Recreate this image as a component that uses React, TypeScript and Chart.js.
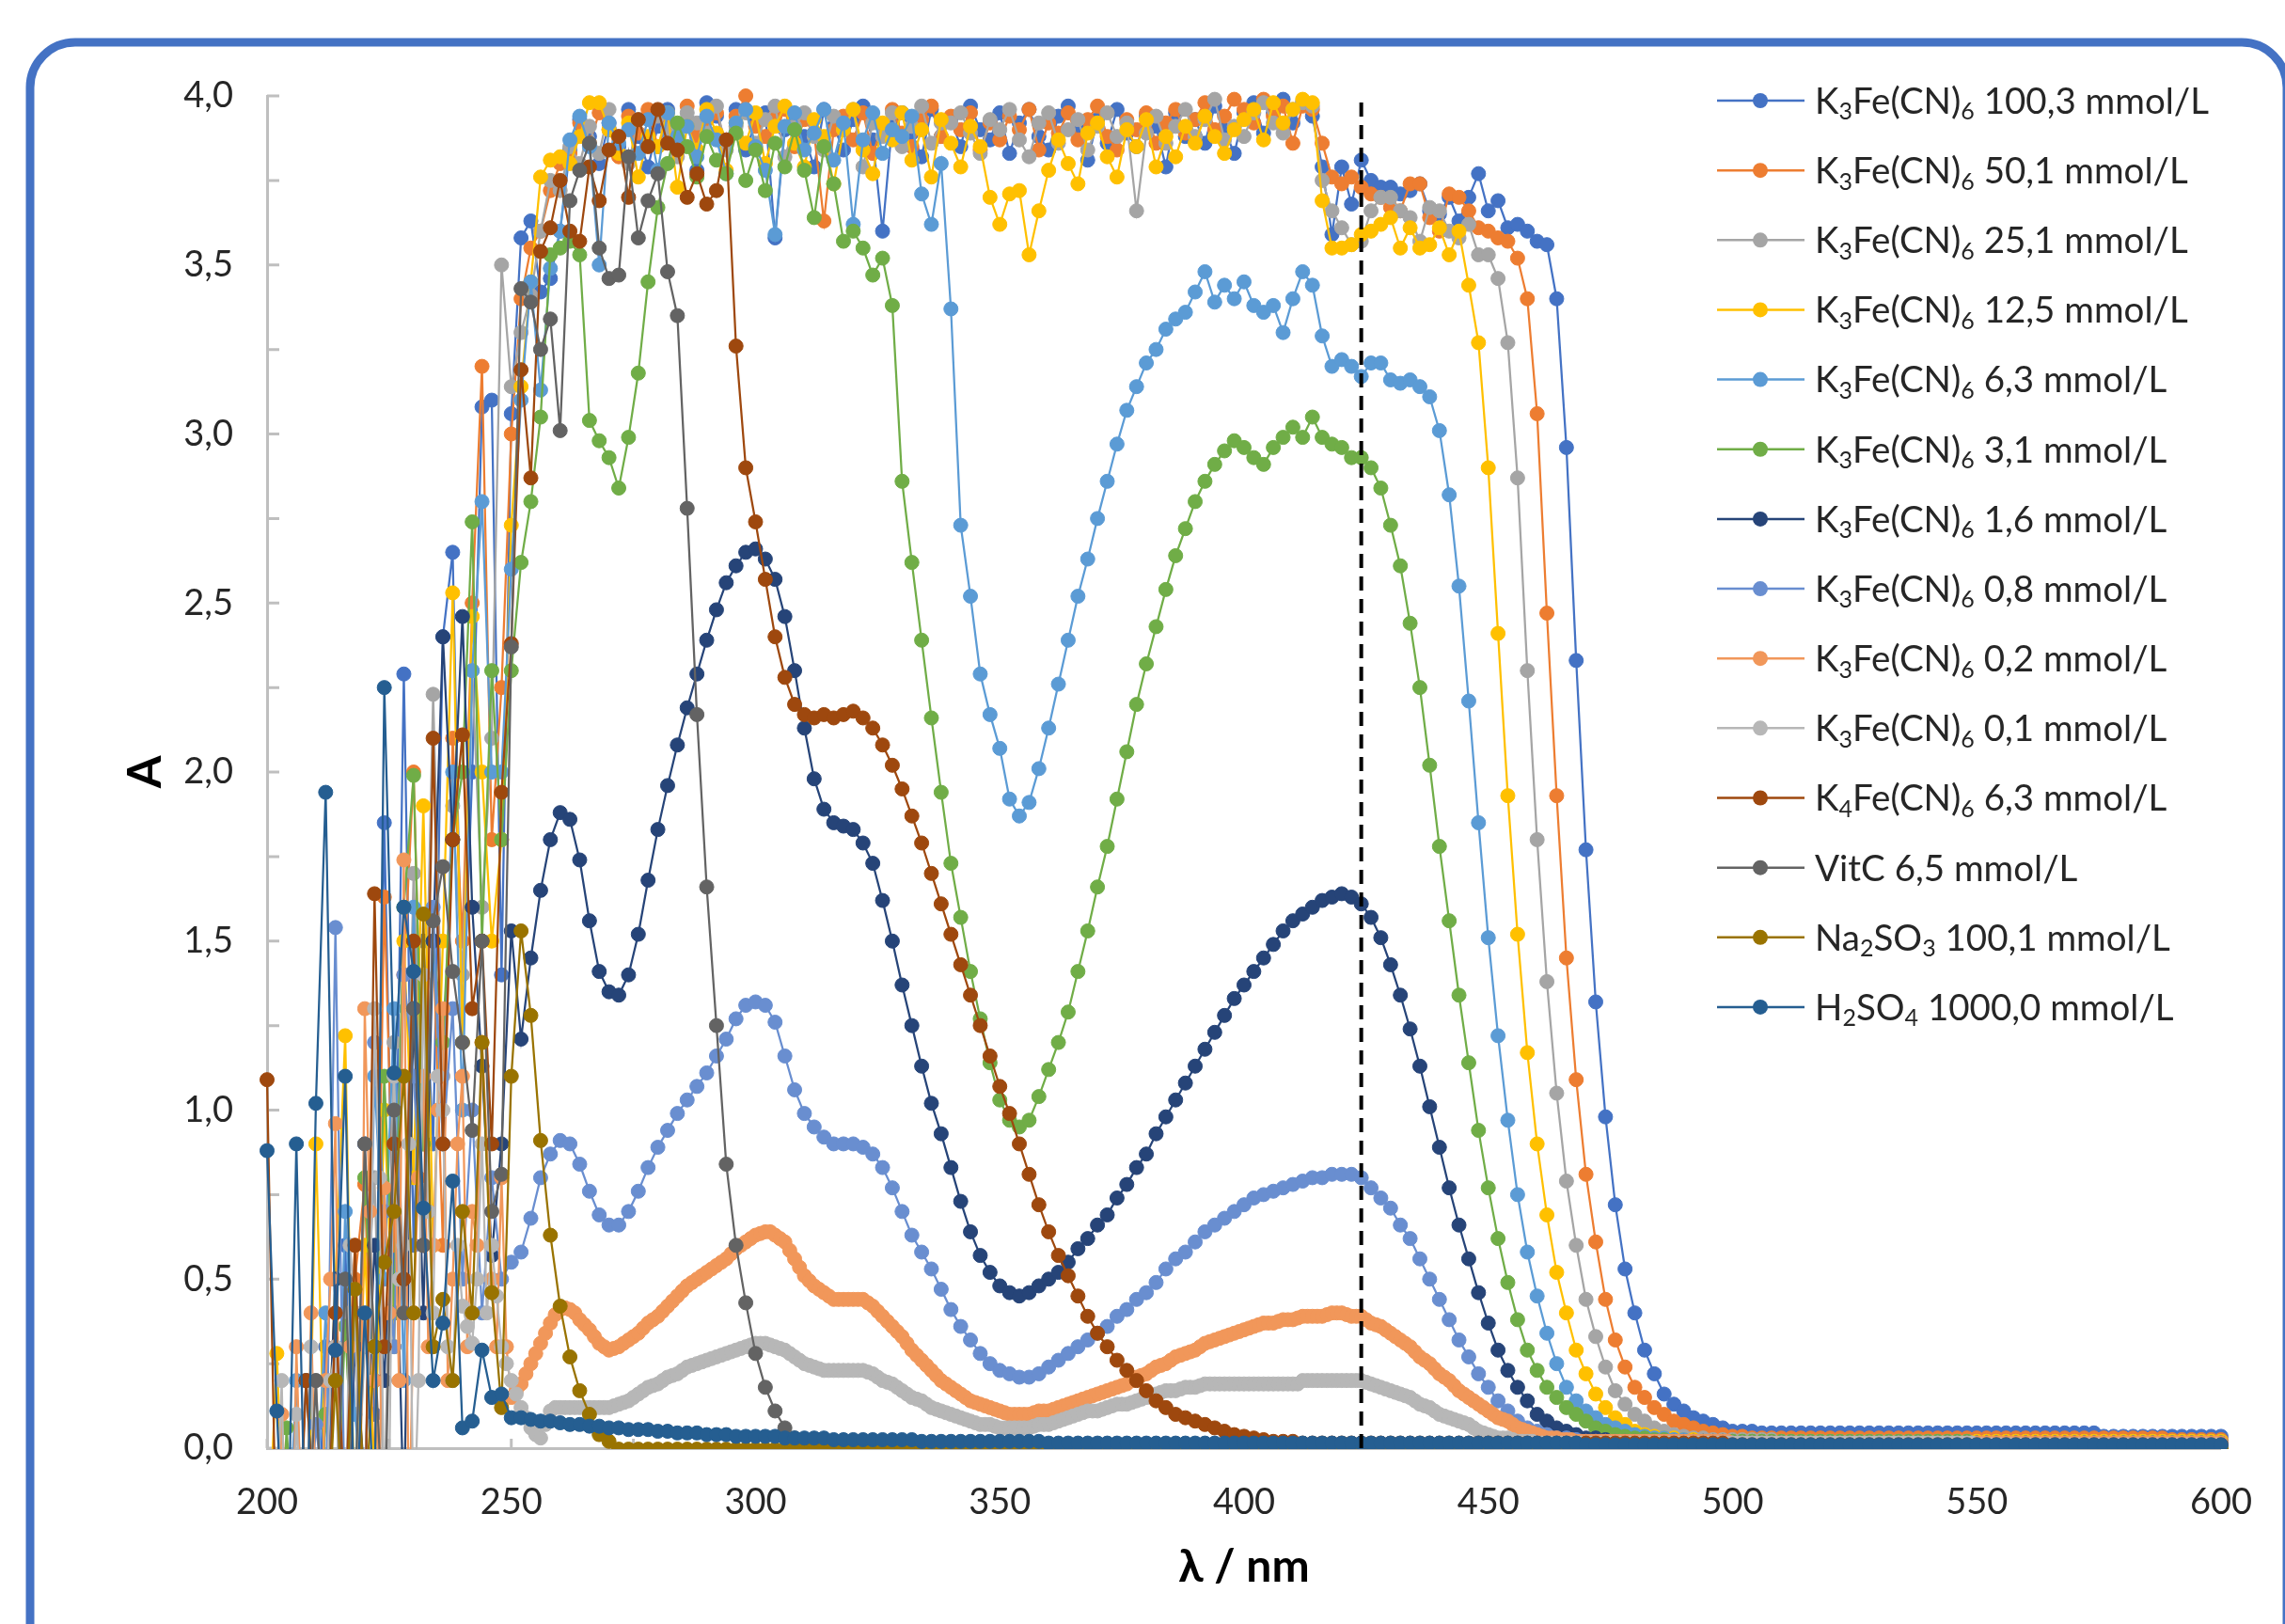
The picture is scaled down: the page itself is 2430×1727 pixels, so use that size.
import React, { useEffect, useRef } from 'react';
import { Chart, registerables } from 'chart.js';

Chart.register(...registerables);

// Instrument sampling grids (nm): most spectra every 2 nm, the two most dilute K3Fe(CN)6 spectra every 1 nm
const WAVELENGTHS_2NM: number[] = Array.from({ length: 201 }, (_, i) => 200 + 2 * i);
const WAVELENGTHS_1NM: number[] = Array.from({ length: 401 }, (_, i) => 200 + i);

// Absorbance values, in hundredths of A (A × 100), one per wavelength of the series' grid
const K3_100 = [
  -40, -60, -30, -50, -20, -40, 30, -30, 60, -20, 90, 10, 185, 40, 229, 60, 150, 90, 240, 265, 120, 200, 308, 310, 140,
  306, 358, 363, 342, 346, 360, 384, 393, 388, 380, 392, 385, 396, 388, 379, 391, 396, 385, 393, 378, 398, 394, 386, 396, 384,
  392, 395, 358, 390, 394, 388, 379, 396, 391, 384, 393, 397, 387, 360, 392, 395, 389, 382, 396, 388, 393, 385, 397, 390, 387,
  395, 383, 392, 396, 388, 384, 394, 397, 390, 381, 393, 386, 396, 389, 385, 394, 391, 379, 395, 388, 393, 386, 397, 390, 383,
  395, 398, 389, 395, 399, 392, 398, 394, 379, 359, 379, 368, 381, 375, 373, 373, 371, 372, 374, 366, 365, 370, 363, 370, 377,
  366, 369, 361, 362, 360, 357, 356, 340, 296, 233, 177, 132, 98, 72, 53, 40, 29, 22, 16, 13, 11, 9, 8, 7, 6,
  5, 5, 5, 4.5, 4.5, 4.5, 4.5, 4.5, 4.5, 4.5, 4.5, 4.5, 4.5, 4.5, 4.5, 4.5, 4.5, 4.5, 4.5, 4.5, 4.5, 4.5, 4.5, 4.5, 4.5,
  4.5, 4.5, 4.5, 4.5, 4.5, 4.5, 4.5, 4.5, 4.5, 4.5, 4.5, 4.5, 4.5, 3.5, 3.5, 3.5, 3.5, 3.5, 3.5, 3.5, 3.5, 3.5, 3.5, 3.5, 3.5, 3.5,
];
const K3_50 = [
  -50, -30, -60, -20, -40, -30, -10, 30, -20, 50, 78, -10, 163, 60, 140, 200, 90, 150, 60, 210, 150, 250, 320, 180, 225,
  300, 340, 355, 360, 372, 380, 383, 392, 386, 395, 390, 382, 394, 389, 396, 385, 392, 390, 397, 388, 393, 395, 386, 394, 400,
  391, 388, 394, 396, 385, 393, 389, 363, 390, 394, 387, 395, 383, 391, 396, 389, 385, 393, 397, 388, 394, 390, 395, 384, 392,
  387, 394, 390, 396, 384, 392, 389, 395, 387, 393, 397, 388, 384, 393, 390, 395, 386, 392, 396, 389, 393, 398, 390, 394, 399,
  396, 392, 399, 394, 397, 386, 397, 396, 386, 376, 374, 376, 373, 371, 370, 367, 366, 374, 374, 364, 360, 371, 370, 366, 361,
  360, 358, 357, 352, 340, 306, 247, 193, 145, 109, 81, 61, 44, 32, 24, 18, 15, 12, 10, 8, 7, 6, 5, 4.5, 4,
  3.5, 3.5, 3, 3, 3, 3, 3, 3, 3, 3, 3, 3, 3, 3, 3, 3, 3, 3, 3, 3, 3, 3, 3, 3, 3,
  3, 3, 3, 3, 3, 3, 3, 3, 3, 3, 3, 3, 3, 3, 3, 3, 3, 3, 3, 3, 2.5, 2.5, 2.5, 2.5, 2.5, 2.5,
];
const K3_25 = [
  -30, -50, -40, -60, -30, 20, -40, -20, 40, -30, 30, 80, -20, 120, 50, 170, 90, 223, 110, 190, 140, 230, 160, 210, 350,
  314, 330, 341, 360, 375, 372, 385, 380, 391, 383, 396, 388, 380, 393, 386, 394, 390, 382, 395, 392, 389, 397, 384, 391, 395,
  386, 393, 397, 382, 391, 395, 388, 384, 394, 390, 396, 379, 392, 388, 395, 385, 391, 397, 386, 392, 392, 395, 389, 383, 393,
  390, 396, 387, 382, 392, 395, 386, 390, 393, 384, 391, 395, 388, 392, 366, 389, 394, 386, 391, 396, 388, 393, 399, 387, 391,
  388, 395, 398, 392, 389, 396, 398, 397, 375, 366, 361, 356, 357, 366, 370, 370, 366, 364, 357, 367, 366, 360, 358, 362, 353,
  353, 346, 327, 287, 230, 180, 138, 105, 79, 60, 44, 33, 24, 17, 13, 10, 8, 6, 5, 4, 3.5, 3, 3, 2.5, 2.5,
  2.5, 2.5, 2.5, 2.5, 2.5, 2, 2, 2, 2, 2, 2, 2, 2, 2, 2, 2, 2, 2, 2, 2, 2, 2, 2, 2, 2,
  2, 2, 2, 2, 2, 2, 2, 2, 2, 2, 2, 2, 2, 2, 2, 2, 2, 2, 2, 2, 2, 2, 2, 2, 2, 2,
];
const K3_12 = [
  -40, 28, -50, -30, -60, 90, -20, 50, 122, -30, 60, -10, 100, 30, 150, 80, 190, 60, 150, 253, 120, 246, 200, 150, 180,
  273, 314, 345, 376, 381, 382, 380, 388, 398, 398, 390, 383, 392, 376, 388, 385, 395, 373, 391, 384, 396, 389, 378, 392, 386,
  395, 380, 391, 397, 386, 379, 393, 388, 374, 390, 396, 384, 377, 392, 387, 395, 381, 390, 376, 393, 386, 379, 391, 385, 370,
  362, 371, 372, 353, 366, 378, 387, 380, 374, 389, 392, 382, 376, 390, 385, 393, 379, 388, 382, 391, 386, 394, 388, 383, 390,
  393, 396, 387, 398, 392, 396, 399, 398, 369, 355, 355, 356, 359, 360, 362, 364, 355, 361, 355, 356, 361, 353, 360, 344, 327,
  290, 241, 193, 152, 117, 90, 69, 52, 40, 29, 22, 16, 12, 9, 7, 5, 4, 3.5, 3, 3, 2.5, 2.5, 2, 2, 2,
  2, 2, 2, 2, 2, 2, 2, 2, 2, 2, 2, 2, 2, 2, 2, 2, 2, 2, 2, 2, 2, 2, 2, 2, 2,
  2, 2, 2, 2, 2, 2, 2, 2, 2, 2, 2, 2, 2, 2, 2, 2, 2, 2, 2, 2, 2, 2, 2, 2, 2, 2,
];
const K3_6 = [
  -50, -30, -40, 20, -50, -20, 40, -30, 70, 10, -20, 110, 50, 130, 20, 160, 60, 150, 90, 200, 100, 230, 280, 200, 200,
  260, 310, 345, 313, 349, 360, 387, 394, 385, 350, 392, 386, 390, 383, 393, 378, 395, 388, 391, 382, 394, 387, 377, 392, 396,
  385, 378, 359, 391, 395, 384, 389, 396, 381, 392, 362, 387, 395, 383, 390, 388, 394, 371, 362, 380, 337, 273, 252, 229, 217,
  207, 192, 187, 191, 201, 213, 226, 239, 252, 263, 275, 286, 297, 307, 314, 321, 325, 331, 334, 336, 342, 348, 339, 344, 340,
  345, 338, 336, 338, 330, 340, 348, 344, 329, 320, 322, 320, 317, 321, 321, 316, 315, 316, 314, 311, 301, 282, 255, 221, 185,
  151, 122, 97, 75, 58, 45, 34, 25, 18, 14, 11, 9, 7, 6, 5, 4, 3.5, 3, 3, 2.5, 2.5, 2, 2, 2, 2,
  2, 2, 2, 2, 2, 2, 2, 2, 2, 2, 2, 2, 2, 2, 2, 2, 2, 2, 2, 2, 2, 2, 2, 2, 2,
  1.5, 1.5, 1.5, 1.5, 1.5, 1.5, 1.5, 1.5, 1.5, 1.5, 1.5, 1.5, 1.5, 1.5, 1.5, 1.5, 1.5, 1.5, 1.5, 1.5, 1.5, 1.5, 1.5, 1.5, 1.5, 1.5,
];
const K3_3 = [
  -30, -60, 6, -40, -20, -50, 10, -30, 36, -20, 80, 20, 110, 40, 160, 199, 90, 150, 120, 180, 200, 274, 150, 230, 180,
  230, 262, 280, 305, 353, 355, 357, 353, 304, 298, 293, 284, 299, 318, 345, 367, 380, 392, 385, 376, 388, 381, 377, 389, 375,
  384, 372, 386, 379, 390, 378, 364, 385, 374, 357, 360, 355, 347, 352, 338, 286, 262, 239, 216, 194, 173, 157, 141, 127, 114,
  103, 97, 95, 97, 104, 112, 120, 129, 141, 153, 166, 178, 192, 206, 220, 232, 243, 254, 264, 272, 280, 286, 291, 295, 298,
  296, 293, 291, 296, 299, 302, 299, 305, 299, 297, 296, 293, 293, 290, 284, 273, 261, 244, 225, 202, 178, 156, 134, 114, 94,
  77, 62, 49, 38, 29, 23, 18, 15, 12, 10, 8, 6, 5, 4, 3.5, 3, 3, 2.5, 2.5, 2, 2, 2, 2, 2, 2,
  2, 2, 2, 2, 2, 2, 2, 2, 2, 2, 2, 2, 2, 2, 2, 2, 2, 2, 2, 2, 2, 2, 2, 2, 2,
  1.5, 1.5, 1.5, 1.5, 1.5, 1.5, 1.5, 1.5, 1.5, 1.5, 1.5, 1.5, 1.5, 1.5, 1.5, 1.5, 1.5, 1.5, 1.5, 1.5, 1.5, 1.5, 1.5, 1.5, 1.5, 1.5,
];
const K3_1_6 = [
  -30, -50, -20, -40, 20, -30, -20, 50, -40, 30, -10, 60, 20, 90, -20, 130, 40, 150, 240, 180, 246, 160, 113, 57, 90,
  153, 121, 145, 165, 180, 188, 186, 174, 156, 141, 135, 134, 140, 152, 168, 183, 196, 208, 219, 229, 239, 248, 256, 261, 265,
  266, 263, 257, 246, 230, 213, 198, 189, 185, 184, 183, 179, 173, 162, 150, 137, 125, 113, 102, 93, 83, 73, 64, 57, 52,
  48, 46, 45, 46, 48, 50, 52, 55, 59, 62, 66, 69, 74, 78, 83, 87, 93, 98, 103, 108, 113, 118, 123, 128, 133,
  137, 141, 145, 149, 153, 156, 158, 160, 162, 163, 164, 163, 161, 157, 151, 143, 134, 124, 113, 101, 89, 77, 66, 56, 46,
  37, 29, 23, 18, 14, 10, 8, 6, 5, 4, 3, 3, 2.5, 2, 2, 2, 2, 2, 2, 2, 2, 2, 2, 2, 2,
  1.5, 1.5, 1.5, 1.5, 1.5, 1.5, 1.5, 1.5, 1.5, 1.5, 1.5, 1.5, 1.5, 1.5, 1.5, 1.5, 1.5, 1.5, 1.5, 1.5, 1.5, 1.5, 1.5, 1.5, 1.5,
  1.5, 1.5, 1.5, 1.5, 1.5, 1.5, 1.5, 1.5, 1.5, 1.5, 1.5, 1.5, 1.5, 1.5, 1.5, 1.5, 1.5, 1.5, 1.5, 1.5, 1.5, 1.5, 1.5, 1.5, 1.5, 1.5,
];
const K3_0_8 = [
  -40, -20, -50, -30, -40, 7, -20, 154, -30, 40, -20, 120, 70, 30, 140, 110, 60, 160, 90, 130, 50, 100, 40, 80, 50,
  55, 58, 68, 80, 87, 91, 90, 84, 76, 69, 66, 66, 70, 76, 83, 89, 94, 99, 103, 107, 111, 116, 121, 127, 131,
  132, 131, 126, 116, 106, 99, 95, 92, 90, 90, 90, 89, 87, 83, 77, 70, 63, 58, 53, 47, 41, 36, 32, 28, 25,
  23, 22, 21, 21, 22, 24, 26, 28, 30, 32, 34, 36, 39, 41, 44, 46, 49, 53, 56, 58, 61, 64, 66, 68, 70,
  72, 74, 75, 76, 77, 78, 79, 80, 80, 81, 81, 81, 80, 77, 74, 71, 66, 62, 56, 50, 44, 38, 32, 27, 22,
  18, 14, 11, 8, 6, 5, 4, 3, 3, 2.5, 2, 2, 2, 2, 2, 2, 2, 2, 2, 2, 2, 2, 2, 2, 2,
  1.5, 1.5, 1.5, 1.5, 1.5, 1.5, 1.5, 1.5, 1.5, 1.5, 1.5, 1.5, 1.5, 1.5, 1.5, 1.5, 1.5, 1.5, 1.5, 1.5, 1.5, 1.5, 1.5, 1.5, 1.5,
  1.5, 1.5, 1.5, 1.5, 1.5, 1.5, 1.5, 1.5, 1.5, 1.5, 1.5, 1.5, 1.5, 1.5, 1.5, 1.5, 1.5, 1.5, 1.5, 1.5, 1.5, 1.5, 1.5, 1.5, 1.5, 1.5,
];
// 1 nm grid (401 values)
const K3_0_2 = [
  -30, -40, -50, 10, -20, -60, 30, -20, -40, 40,
  -20, -30, 20, 50, 96, -20, -30, 30, 60, -40,
  130, 70, 20, -10, 77, 40, 90, 20, 174, -30,
  40, 80, 110, 30, 60, 100, 130, 20, 50, 90,
  110, 30, 70, 60, 120, 90, 50, 30, 80, 30,
  15, 17, 19, 22, 25, 28, 31, 34, 37, 39.5,
  41, 41.5, 41, 40, 38, 36.5, 35, 33, 31, 30,
  29, 29.5, 30, 31, 32, 33, 34, 35.5, 37, 38,
  39, 40.5, 42, 43.5, 45, 46.5, 48, 49, 50, 51,
  52, 53, 54, 55, 56, 57.5, 59, 60, 61, 62,
  63, 63.5, 64, 64, 63, 62, 61, 58.5, 56, 53.5,
  51, 49.5, 48, 47, 46, 45, 44, 44, 44, 44,
  44, 44, 44, 43, 42, 40.5, 39, 37.5, 36, 34.5,
  33, 31, 29, 27.5, 26, 24.5, 23, 21.5, 20, 19,
  18, 17, 16, 15, 14, 13.5, 13, 12.5, 12, 11.5,
  11, 10.5, 10, 10, 10, 10, 10, 10.5, 11, 11,
  11, 11.5, 12, 12.5, 13, 13.5, 14, 14.5, 15, 15.5,
  16, 16.5, 17, 17.5, 18, 18.5, 19, 20, 21, 21.5,
  22, 23, 24, 24.5, 25, 26, 27, 27.5, 28, 28.5,
  29, 30, 31, 31.5, 32, 32.5, 33, 33.5, 34, 34.5,
  35, 35.5, 36, 36.5, 37, 37, 37, 37.5, 38, 38,
  38, 38.5, 39, 39, 39, 39, 39, 39.5, 40, 40,
  40, 39.5, 39, 39, 39, 38, 37, 36.5, 36, 35,
  34, 33, 32, 31, 30, 28.5, 27, 26, 25, 23.5,
  22, 21, 20, 18.5, 17, 16, 15, 14, 13, 12,
  11, 10, 9, 8.5, 8, 7, 6, 5.5, 5, 4.5,
  4, 3.5, 3, 3, 3, 2.5, 2.5, 2.5, 2, 2,
  2, 2, 2, 2, 2, 2, 2, 2, 2, 2,
  2, 2, 2, 2, 2, 2, 2, 2, 2, 2,
  2, 2, 2, 2, 2, 2, 2, 2, 2, 2,
  1.5, 1.5, 1.5, 1.5, 1.5, 1.5, 1.5, 1.5, 1.5, 1.5,
  1.5, 1.5, 1.5, 1.5, 1.5, 1.5, 1.5, 1.5, 1.5, 1.5,
  1.5, 1.5, 1.5, 1.5, 1.5, 1.5, 1.5, 1.5, 1.5, 1.5,
  1.5, 1.5, 1.5, 1.5, 1.5, 1.5, 1.5, 1.5, 1.5, 1.5,
  1.5, 1.5, 1.5, 1.5, 1.5, 1.5, 1.5, 1.5, 1.5, 1.5,
  1.5, 1.5, 1.5, 1.5, 1.5, 1.5, 1.5, 1.5, 1.5, 1.5,
  1.5, 1.5, 1.5, 1.5, 1.5, 1.5, 1.5, 1.5, 1.5, 1.5,
  1.5, 1.5, 1.5, 1.5, 1.5, 1.5, 1.5, 1.5, 1.5, 1.5,
  1.5, 1.5, 1.5, 1.5, 1.5, 1.5, 1.5, 1.5, 1.5, 1.5,
  1.5, 1.5, 1.5, 1.5, 1.5, 1.5, 1.5, 1.5, 1.5, 1.5,
  1.5,
];
// 1 nm grid (401 values)
const K3_0_1 = [
  -40, -30, -20, 20, -50, -50, 10, -20, -30, 30,
  -60, -40, -20, 20, 30, -30, -40, 60, 40, -20,
  -10, 30, 130, 80, -20, -10, 110, 50, 60, 90,
  -30, 20, 140, 70, 40, 110, 100, 30, 20, 60,
  42, 36, 31, 50, 90, 40, 60, 45, 30, 25,
  20, 16, 12, 9, 6, 4, 3, 7, 11, 12,
  12, 12, 12, 12, 12, 12, 12, 12, 12, 12,
  12, 12.5, 13, 13.5, 14, 15, 16, 17, 18, 18.5,
  19, 20, 21, 21.5, 22, 23, 24, 24.5, 25, 25.5,
  26, 26.5, 27, 27.5, 28, 28.5, 29, 29.5, 30, 30.5,
  31, 31, 31, 30.5, 30, 29.5, 29, 28, 27, 26,
  25, 24.5, 24, 23.5, 23, 23, 23, 23, 23, 23,
  23, 23, 23, 22.5, 22, 21, 20, 19.5, 19, 18,
  17, 16, 15, 14.5, 14, 13, 12, 11.5, 11, 10.5,
  10, 9.5, 9, 8.5, 8, 7.5, 7, 7, 7, 6.5,
  6, 6, 6, 6, 6, 6, 6, 6.5, 7, 7,
  7, 7.5, 8, 8.5, 9, 9.5, 10, 10.5, 11, 11,
  11, 11.5, 12, 12.5, 13, 13, 13, 13.5, 14, 14.5,
  15, 15.5, 16, 16.5, 17, 17, 17, 17.5, 18, 18,
  18, 18.5, 19, 19, 19, 19, 19, 19, 19, 19,
  19, 19, 19, 19, 19, 19, 19, 19, 19, 19,
  19, 19, 20, 20, 20, 20, 20, 20, 20, 20,
  20, 20, 20, 20, 20, 19.5, 19, 18.5, 18, 17.5,
  17, 16.5, 16, 15.5, 15, 14, 13, 12.5, 12, 11,
  10, 9.5, 9, 8.5, 8, 7.5, 7, 6, 5, 4.5,
  4, 3.5, 3, 3, 3, 2.5, 2, 2, 2, 2,
  1.5, 1.5, 1.5, 1.5, 1.5, 1.5, 1.5, 1.5, 1.5, 1.5,
  1.5, 1.5, 1.5, 1.5, 1.5, 1.5, 1.5, 1.5, 1.5, 1.5,
  1.5, 1.5, 1.5, 1.5, 1.5, 1.5, 1.5, 1.5, 1.5, 1.5,
  1.5, 1.5, 1.5, 1.5, 1.5, 1.5, 1.5, 1.5, 1.5, 1.5,
  1.5, 1.5, 1.5, 1.5, 1.5, 1.5, 1.5, 1.5, 1.5, 1.5,
  1.5, 1.5, 1.5, 1.5, 1.5, 1.5, 1.5, 1.5, 1.5, 1.5,
  1.5, 1.5, 1.5, 1.5, 1.5, 1.5, 1.5, 1.5, 1.5, 1.5,
  1.5, 1.5, 1.5, 1.5, 1.5, 1.5, 1.5, 1.5, 1.5, 1.5,
  1.5, 1.5, 1.5, 1.5, 1.5, 1.5, 1.5, 1.5, 1.5, 1.5,
  1, 1, 1, 1, 1, 1, 1, 1, 1, 1,
  1, 1, 1, 1, 1, 1, 1, 1, 1, 1,
  1, 1, 1, 1, 1, 1, 1, 1, 1, 1,
  1, 1, 1, 1, 1, 1, 1, 1, 1, 1,
  1, 1, 1, 1, 1, 1, 1, 1, 1, 1,
  1,
];
const K4_6 = [
  109, -40, -20, -50, 20, -30, -50, 40, -20, 60, -30, 164, 30, 90, 50, 150, 60, 210, 90, 180, 211, 130, 150, 90, 194,
  238, 319, 287, 354, 361, 375, 360, 357, 379, 369, 384, 388, 370, 393, 385, 396, 386, 384, 370, 377, 368, 372, 387, 326, 290,
  274, 257, 240, 228, 220, 217, 216, 217, 216, 217, 218, 216, 213, 208, 202, 195, 187, 179, 170, 161, 152, 143, 134, 125, 116,
  107, 99, 90, 81, 72, 64, 57, 51, 45, 39, 34, 30, 26, 23, 20, 17, 14, 12, 10, 9, 8, 7, 6, 5, 4,
  3.5, 3, 2.5, 2, 2, 2, 1.5, 1.5, 1.5, 1.5, 1.5, 1.5, 1.5, 1.5, 1.5, 1.5, 1.5, 1.5, 1.5, 1.5, 1.5, 1.5, 1.5, 1.5, 1.5,
  1.5, 1.5, 1.5, 1.5, 1.5, 1.5, 1.5, 1.5, 1.5, 1.5, 1.5, 1.5, 1.5, 1.5, 1.5, 1.5, 1.5, 1.5, 1.5, 1.5, 1.5, 1.5, 1.5, 1.5, 1.5,
  1, 1, 1, 1, 1, 1, 1, 1, 1, 1, 1, 1, 1, 1, 1, 1, 1, 1, 1, 1, 1, 1, 1, 1, 1,
  1, 1, 1, 1, 1, 1, 1, 1, 1, 1, 1, 1, 1, 1, 1, 1, 1, 1, 1, 1, 1, 1, 1, 1, 1, 1,
];
const VITC_6_5 = [
  -40, -30, -50, -20, -40, 20, -50, -30, 50, -20, 90, 30, -30, 100, 40, 130, 60, 156, 172, 141, 120, 94, 150, 70, 81,
  237, 343, 339, 325, 334, 301, 369, 378, 386, 355, 346, 347, 382, 358, 369, 377, 348, 335, 278, 217, 166, 125, 84, 60, 43,
  28, 18, 11, 6, 3, 1, 0, -1, -2, -2, -1, -0.5, -0.5, -0.5, -0.5, -0.5, -0.5, -0.5, -0.5, -0.5, -0.5, -0.5, -0.5, -0.5, -0.5,
  -0.5, -0.5, -0.5, -0.5, -0.5, -0.5, -0.5, -0.5, -0.5, -0.5, -0.5, -0.5, -0.5, -0.5, -0.5, -0.5, -0.5, -0.5, -0.5, -0.5, -0.5, -0.5, -0.5, -0.5, -0.5,
  -0.5, -0.5, -0.5, -0.5, -0.5, -0.5, -0.5, -0.5, -0.5, -0.5, -0.5, -0.5, -0.5, -0.5, -0.5, -0.5, -0.5, -0.5, -0.5, -0.5, -0.5, -0.5, -0.5, -0.5, -0.5,
  -0.5, -0.5, -0.5, -0.5, -0.5, -0.5, -0.5, -0.5, -0.5, -0.5, -0.5, -0.5, -0.5, -0.5, -0.5, -0.5, -0.5, -0.5, -0.5, -0.5, -0.5, -0.5, -0.5, -0.5, -0.5,
  -0.5, -0.5, -0.5, -0.5, -0.5, -0.5, -0.5, -0.5, -0.5, -0.5, -0.5, -0.5, -0.5, -0.5, -0.5, -0.5, -0.5, -0.5, -0.5, -0.5, -0.5, -0.5, -0.5, -0.5, -0.5,
  -0.5, -0.5, -0.5, -0.5, -0.5, -0.5, -0.5, -0.5, -0.5, -0.5, -0.5, -0.5, -0.5, -0.5, -0.5, -0.5, -0.5, -0.5, -0.5, -0.5, -0.5, -0.5, -0.5, -0.5, -0.5, -0.5,
];
const NA2SO3_100 = [
  -40, -20, -50, -30, -60, -20, -40, 20, -30, 47, -20, 30, 55, 70, 110, 40, 158, 30, 44, 20, 70, 40, 120, 46, 12,
  110, 153, 128, 91, 63, 42, 27, 17, 10, 4, 2, -0.3, -0.3, -0.3, -0.3, -0.3, -0.3, -0.3, -0.3, -0.3, -0.3, -0.3, -0.3, -0.3, -0.3,
  -0.3, -0.3, -0.3, -0.3, -0.3, -0.3, -0.3, -0.3, -0.3, -0.3, -0.3, -0.3, -0.3, -0.3, -0.3, -0.3, -0.3, -0.3, -0.3, -0.3, -0.3, -0.3, -0.3, -0.3, -0.3,
  -0.3, -0.3, -0.3, -0.3, -0.3, -0.3, -0.3, -0.3, -0.3, -0.3, -0.3, -0.3, -0.3, -0.3, -0.3, -0.3, -0.3, -0.3, -0.3, -0.3, -0.3, -0.3, -0.3, -0.3, -0.3,
  -0.3, -0.3, -0.3, -0.3, -0.3, -0.3, -0.3, -0.3, -0.3, -0.3, -0.3, -0.3, -0.3, -0.3, -0.3, -0.3, -0.3, -0.3, -0.3, -0.3, -0.3, -0.3, -0.3, -0.3, -0.3,
  -0.3, -0.3, -0.3, -0.3, -0.3, -0.3, -0.3, -0.3, -0.3, -0.3, -0.3, -0.3, -0.3, -0.3, -0.3, -0.3, -0.3, -0.3, -0.3, -0.3, -0.3, -0.3, -0.3, -0.3, -0.3,
  -0.3, -0.3, -0.3, -0.3, -0.3, -0.3, -0.3, -0.3, -0.3, -0.3, -0.3, -0.3, -0.3, -0.3, -0.3, -0.3, -0.3, -0.3, -0.3, -0.3, -0.3, -0.3, -0.3, -0.3, -0.3,
  -0.3, -0.3, -0.3, -0.3, -0.3, -0.3, -0.3, -0.3, -0.3, -0.3, -0.3, -0.3, -0.3, -0.3, -0.3, -0.3, -0.3, -0.3, -0.3, -0.3, -0.3, -0.3, -0.3, -0.3, -0.3, -0.3,
];
const H2SO4_1000 = [
  88, 11, -50, 90, -40, 102, 194, 29, 110, -30, 40, -20, 225, 111, 160, 141, 71, 20, 37, 79, 6, 8, 29, 15, 16,
  9, 9, 8.5, 8, 8, 7.5, 7, 7, 6.5, 6.5, 6, 6, 5.5, 5.5, 5.5, 5, 5, 4.5, 4.5, 4.5, 4, 4, 4, 3.5, 3.5,
  3.5, 3.5, 3.5, 3, 3, 3, 3, 3, 2.5, 2.5, 2.5, 2.5, 2.5, 2.5, 2.5, 2.5, 2.5, 2, 2, 2, 2, 2, 2, 2, 2,
  2, 2, 2, 2, 2, 1.5, 1.5, 1.5, 1.5, 1.5, 1.5, 1.5, 1.5, 1.5, 1.5, 1.5, 1.5, 1.5, 1.5, 1.5, 1.5, 1.5, 1.5, 1.5, 1.5,
  1.5, 1.5, 1.5, 1.5, 1.5, 1.5, 1.5, 1.5, 1.5, 1.5, 1.5, 1.5, 1.5, 1.5, 1.5, 1.5, 1.5, 1.5, 1.5, 1.5, 1.5, 1.5, 1.5, 1.5, 1.5,
  1.5, 1.5, 1.5, 1.5, 1.5, 1.5, 1.5, 1.5, 1.5, 1.5, 1, 1, 1, 1, 1, 1, 1, 1, 1, 1, 1, 1, 1, 1, 1,
  1, 1, 1, 1, 1, 1, 1, 1, 1, 1, 1, 1, 1, 1, 1, 1, 1, 1, 1, 1, 1, 1, 1, 1, 1,
  1, 1, 1, 1, 1, 1, 1, 1, 1, 1, 1, 1, 1, 1, 1, 1, 1, 1, 1, 1, 1, 1, 1, 1, 1, 1,
];

const SERIES_LABELS = [
  'K₃Fe(CN)₆ 100,3 mmol/L',
  'K₃Fe(CN)₆ 50,1 mmol/L',
  'K₃Fe(CN)₆ 25,1 mmol/L',
  'K₃Fe(CN)₆ 12,5 mmol/L',
  'K₃Fe(CN)₆ 6,3 mmol/L',
  'K₃Fe(CN)₆ 3,1 mmol/L',
  'K₃Fe(CN)₆ 1,6 mmol/L',
  'K₃Fe(CN)₆ 0,8 mmol/L',
  'K₃Fe(CN)₆ 0,2 mmol/L',
  'K₃Fe(CN)₆ 0,1 mmol/L',
  'K₄Fe(CN)₆ 6,3 mmol/L',
  'VitC 6,5 mmol/L',
  'Na₂SO₃ 100,1 mmol/L',
  'H₂SO₄ 1000,0 mmol/L',
];
const SERIES_VALUES = [
  K3_100, K3_50, K3_25, K3_12, K3_6, K3_3, K3_1_6, K3_0_8, K3_0_2, K3_0_1, K4_6, VITC_6_5, NA2SO3_100, H2SO4_1000,
];
const SERIES_GRIDS = [
  WAVELENGTHS_2NM, WAVELENGTHS_2NM, WAVELENGTHS_2NM, WAVELENGTHS_2NM, WAVELENGTHS_2NM, WAVELENGTHS_2NM, WAVELENGTHS_2NM,
  WAVELENGTHS_2NM, WAVELENGTHS_1NM, WAVELENGTHS_1NM, WAVELENGTHS_2NM, WAVELENGTHS_2NM, WAVELENGTHS_2NM, WAVELENGTHS_2NM,
];
const SERIES_COLORS = [
  '#4472C4', '#ED7D31', '#A5A5A5', '#FFC000', '#5B9BD5', '#70AD47', '#264478',
  '#698ED0', '#F1975A', '#B7B7B7', '#9E480E', '#636363', '#997300', '#255E91',
];

const X_MIN = 200;
const X_MAX = 600;
const X_STEP = 50;
const X_MINOR_TICKS = [200, 225, 250, 275, 300, 325, 350, 375, 400, 425, 450, 475, 500, 525, 550, 575, 600];
const Y_MIN = 0;
const Y_MAX = 4;
const Y_STEP = 0.5;
const Y_MINOR_TICKS = [0, 0.25, 0.5, 0.75, 1, 1.25, 1.5, 1.75, 2, 2.25, 2.5, 2.75, 3, 3.25, 3.5, 3.75, 4];
const MARKER_WAVELENGTH = 424;
const X_TITLE = 'λ / nm';
const Y_TITLE = 'A';

const FONT = 'Lato, "Noto Sans", "DejaVu Sans", sans-serif';
const TEXT_COLOR = '#262626';
const AXIS_COLOR = '#BFBFBF';
const SUBSCRIPTS = '₀₁₂₃₄₅₆₇₈₉';

function drawRichText(ctx: CanvasRenderingContext2D, text: string, x: number, baseline: number, size: number) {
  const runs: { sub: boolean; t: string }[] = [];
  for (const ch of text) {
    const idx = SUBSCRIPTS.indexOf(ch);
    const sub = idx >= 0;
    const c = sub ? String(idx) : ch;
    const last = runs[runs.length - 1];
    if (last && last.sub === sub) last.t += c;
    else runs.push({ sub, t: c });
  }
  let cx = x;
  ctx.textAlign = 'left';
  ctx.textBaseline = 'alphabetic';
  for (const r of runs) {
    const s = r.sub ? Math.round(size * 0.64) : size;
    ctx.font = `${s}px ${FONT}`;
    ctx.fillText(r.t, cx, r.sub ? baseline + size * 0.17 : baseline);
    cx += ctx.measureText(r.t).width;
  }
}

const framePlugin = {
  id: 'frame',
  beforeDraw(chart: any) {
    const { ctx } = chart;
    ctx.save();
    ctx.strokeStyle = '#4472C4';
    ctx.lineWidth = 9;
    ctx.beginPath();
    (ctx as any).roundRect(32, 45, 2400, 1800, 48);
    ctx.stroke();
    ctx.restore();
  },
};

const insideTicksPlugin = {
  id: 'insideTicks',
  beforeDatasetsDraw(chart: any) {
    const { ctx, chartArea, scales } = chart;
    ctx.save();
    ctx.strokeStyle = AXIS_COLOR;
    ctx.lineWidth = 3;
    ctx.beginPath();
    for (const v of Y_MINOR_TICKS) {
      const y = scales.y.getPixelForValue(v);
      ctx.moveTo(chartArea.left, y);
      ctx.lineTo(chartArea.left + 13, y);
    }
    for (const v of X_MINOR_TICKS) {
      const x = scales.x.getPixelForValue(v);
      ctx.moveTo(x, chartArea.bottom);
      ctx.lineTo(x, chartArea.bottom - 10);
    }
    ctx.stroke();
    ctx.restore();
  },
};

const LEGEND_X = 1826;
const LEGEND_Y = 107;
const LEGEND_ROW = 74.15;
const LEGEND_FONT_SIZE = 38.5;

const richLegendPlugin = {
  id: 'richLegend',
  afterDraw(chart: any) {
    const { ctx } = chart;
    ctx.save();
    SERIES_LABELS.forEach((label, i) => {
      const cy = LEGEND_Y + i * LEGEND_ROW;
      const color = SERIES_COLORS[i];
      ctx.strokeStyle = color;
      ctx.lineWidth = 2.5;
      ctx.beginPath();
      ctx.moveTo(LEGEND_X, cy);
      ctx.lineTo(LEGEND_X + 93, cy);
      ctx.stroke();
      ctx.fillStyle = color;
      ctx.beginPath();
      ctx.arc(LEGEND_X + 46, cy, 8, 0, Math.PI * 2);
      ctx.fill();
      ctx.fillStyle = TEXT_COLOR;
      drawRichText(ctx, label, LEGEND_X + 104, cy + LEGEND_FONT_SIZE * 0.36, LEGEND_FONT_SIZE);
    });
    ctx.restore();
  },
};

export default function App() {
  const canvasRef = useRef<HTMLCanvasElement | null>(null);

  useEffect(() => {
    const canvas = canvasRef.current;
    if (!canvas) return;
    const clip = { left: 12, top: 12, right: 12, bottom: 1 };
    const datasets: any[] = SERIES_VALUES.map((vals, i) => ({
      label: SERIES_LABELS[i],
      data: SERIES_GRIDS[i].map((x, k) => ({ x, y: vals[k] / 100 })),
      borderColor: SERIES_COLORS[i],
      backgroundColor: SERIES_COLORS[i],
      pointBackgroundColor: SERIES_COLORS[i],
      pointBorderColor: SERIES_COLORS[i],
      borderWidth: 2.25,
      pointRadius: 7.5,
      pointBorderWidth: 1,
      pointStyle: 'circle',
      tension: 0,
      fill: false,
      clip,
      order: SERIES_VALUES.length - 1 - i,
    }));
    datasets.push({
      label: 'λ marker',
      data: [
        { x: MARKER_WAVELENGTH, y: Y_MIN },
        { x: MARKER_WAVELENGTH, y: Y_MAX },
      ],
      borderColor: '#000000',
      borderWidth: 4,
      borderDash: [15, 9],
      pointRadius: 0,
      fill: false,
      clip,
      order: -1,
    });

    const chart = new Chart(canvas, {
      type: 'line',
      data: { datasets },
      options: {
        animation: false,
        responsive: false,
        devicePixelRatio: 1,
        events: [],
        layout: { padding: { left: 100, right: 54, top: 102, bottom: 0 } },
        plugins: { legend: { display: false }, tooltip: { enabled: false }, title: { display: false } },
        scales: {
          x: {
            type: 'linear',
            min: X_MIN,
            max: X_MAX,
            grid: { display: false, drawTicks: false },
            border: { display: true, color: AXIS_COLOR, width: 3 },
            ticks: {
              stepSize: X_STEP,
              autoSkip: false,
              maxRotation: 0,
              padding: 35,
              color: TEXT_COLOR,
              font: { family: FONT, size: 38 },
            },
            title: {
              display: true,
              text: X_TITLE,
              color: '#000000',
              font: { family: FONT, size: 48, weight: 'bold' },
              padding: { top: 0, bottom: 32 },
            },
            afterFit: (s: any) => {
              s.height = 187;
            },
          },
          y: {
            type: 'linear',
            min: Y_MIN,
            max: Y_MAX,
            grid: { display: false, drawTicks: false },
            border: { display: true, color: AXIS_COLOR, width: 3 },
            ticks: {
              stepSize: Y_STEP,
              padding: 36,
              color: TEXT_COLOR,
              font: { family: FONT, size: 38 },
              callback: (v: any) => Number(v).toFixed(1).replace('.', ','),
            },
            title: {
              display: true,
              text: Y_TITLE,
              color: '#000000',
              font: { family: FONT, size: 50, weight: 'bold' },
              padding: { top: 25, bottom: 0 },
            },
            afterFit: (s: any) => {
              s.width = 184;
            },
          },
        },
      } as any,
      plugins: [framePlugin, insideTicksPlugin, richLegendPlugin],
    });

    return () => {
      chart.destroy();
    };
  }, []);

  return (
    <div style={{ position: 'fixed', left: 0, top: 0, width: 2430, height: 1727, background: '#ffffff' }}>
      <canvas ref={canvasRef} width={2430} height={1727} style={{ width: 2430, height: 1727, display: 'block' }} />
    </div>
  );
}
